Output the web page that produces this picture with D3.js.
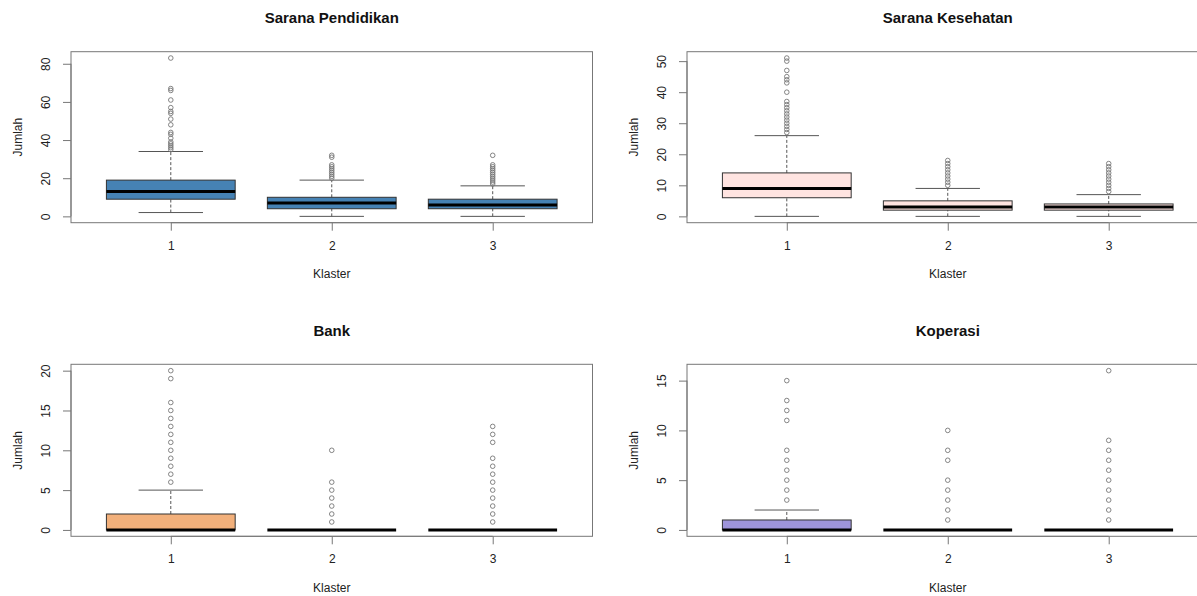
<!DOCTYPE html>
<html>
<head>
<meta charset="utf-8">
<script src="https://cdn.jsdelivr.net/npm/d3@7"></script>
<style>
  body { margin: 0; background: #fff; }
  svg { display: block; font-family: "Liberation Sans", Arial, sans-serif; }
</style>
</head>
<body>
<div id="chart"></div>
<script>
// cluster labels on the x axis
const klaster = [1, 2, 3];
const panelTitles = ["Sarana Pendidikan", "Sarana Kesehatan", "Bank", "Koperasi"];
const boxColors = ["#4682B4", "#FFE4E1", "#F2B07B", "#9E94DA"];

// [lower whisker, Q1, median, Q3, upper whisker] per cluster
const pendidikanStats = [[2, 9, 13, 19, 34], [0, 4, 7, 10, 19], [0, 4, 6, 9, 16]];
const pendidikanOutliers = [
    [35, 36, 37, 38, 39, 41, 43, 44, 48, 51, 54, 55, 57, 61, 66, 67, 83],
    [20, 21, 22, 23, 24, 25, 26, 27, 31, 32],
    [17, 18, 19, 20, 21, 22, 23, 24, 25, 26, 27, 32]
];

const kesehatanStats = [[0, 6, 9, 14, 26], [0, 2, 3, 5, 9], [0, 2, 3, 4, 7]];
const kesehatanOutliers = [
    [27, 28, 29, 30, 31, 32, 33, 34, 35, 36, 37, 40, 43, 44, 45, 47, 50, 51],
    [10, 11, 12, 13, 14, 15, 16, 17, 18],
    [8, 9, 10, 11, 12, 13, 14, 15, 16, 17]
];

const bankStats = [[0, 0, 0, 2, 5], [0, 0, 0, 0, 0], [0, 0, 0, 0, 0]];
const bankOutliers = [
    [6, 7, 8, 9, 10, 11, 12, 13, 14, 15, 16, 19, 20],
    [1, 2, 3, 4, 5, 6, 10],
    [1, 2, 3, 4, 5, 6, 7, 8, 9, 11, 12, 13]
];

const koperasiStats = [[0, 0, 0, 1, 2], [0, 0, 0, 0, 0], [0, 0, 0, 0, 0]];
const koperasiOutliers = [
    [3, 4, 5, 6, 7, 8, 11, 12, 13, 15],
    [1, 2, 3, 4, 5, 7, 8, 10],
    [1, 2, 3, 4, 5, 6, 7, 8, 9, 16]
];

const W = 1197, H = 596;

const svg = d3.select("#chart")
    .append("svg")
    .attr("width", W)
    .attr("height", H);

// plot regions: left, top, right, bottom
const panels = [
    {title: panelTitles[0], stats: pendidikanStats, outliers: pendidikanOutliers, color: boxColors[0], box: [71, 51.7, 592.5, 222.7]},
    {title: panelTitles[1], stats: kesehatanStats, outliers: kesehatanOutliers, color: boxColors[1], box: [687, 51.7, 1208.5, 222.7]},
    {title: panelTitles[2], stats: bankStats, outliers: bankOutliers, color: boxColors[2], box: [71, 364.3, 592.5, 536.3]},
    {title: panelTitles[3], stats: koperasiStats, outliers: koperasiOutliers, color: boxColors[3], box: [687, 364.3, 1208.5, 536.3]}
];

function drawPanel(p) {
    const [x0, y0, x1, y1] = p.box;

    // R style: 4% padding around the data range
    const allVals = p.stats.flat().concat(p.outliers.flat());
    const lo = d3.min(allVals), hi = d3.max(allVals);
    const pad = (hi - lo) * 0.04;

    const x = d3.scaleLinear()
        .domain([1 - 0.5 - 0.12, klaster.length + 0.5 + 0.12])
        .range([x0, x1]);
    const y = d3.scaleLinear()
        .domain([lo - pad, hi + pad])
        .range([y1, y0]);

    const g = svg.append("g");

    const boxHalf = x(1.4) - x(1);
    const capHalf = x(1.2) - x(1);

    const groups = g.selectAll("g.grp")
        .data(klaster.map((k, i) => ({k: k, s: p.stats[i], out: p.outliers[i]})))
        .enter()
        .append("g");

    // dashed whiskers
    groups.append("line")
        .attr("x1", d => x(d.k)).attr("x2", d => x(d.k))
        .attr("y1", d => y(d.s[3])).attr("y2", d => y(d.s[4]))
        .attr("stroke", "#555").attr("stroke-dasharray", "3,2");
    groups.append("line")
        .attr("x1", d => x(d.k)).attr("x2", d => x(d.k))
        .attr("y1", d => y(d.s[0])).attr("y2", d => y(d.s[1]))
        .attr("stroke", "#555").attr("stroke-dasharray", "3,2");

    // staples
    groups.filter(d => d.s[4] > d.s[3]).append("line")
        .attr("x1", d => x(d.k) - capHalf).attr("x2", d => x(d.k) + capHalf)
        .attr("y1", d => y(d.s[4])).attr("y2", d => y(d.s[4]))
        .attr("stroke", "#555");
    groups.filter(d => d.s[0] < d.s[1]).append("line")
        .attr("x1", d => x(d.k) - capHalf).attr("x2", d => x(d.k) + capHalf)
        .attr("y1", d => y(d.s[0])).attr("y2", d => y(d.s[0]))
        .attr("stroke", "#555");

    // box
    groups.append("rect")
        .attr("x", d => x(d.k) - boxHalf)
        .attr("width", 2 * boxHalf)
        .attr("y", d => y(d.s[3]))
        .attr("height", d => y(d.s[1]) - y(d.s[3]))
        .attr("fill", p.color)
        .attr("stroke", "#333")
        .attr("stroke-width", 1);

    // median
    groups.append("line")
        .attr("x1", d => x(d.k) - boxHalf).attr("x2", d => x(d.k) + boxHalf)
        .attr("y1", d => y(d.s[2])).attr("y2", d => y(d.s[2]))
        .attr("stroke", "#000").attr("stroke-width", 3);

    // outliers
    groups.selectAll("circle")
        .data(d => d.out.map(v => ({k: d.k, v: v})))
        .enter()
        .append("circle")
        .attr("cx", d => x(d.k))
        .attr("cy", d => y(d.v))
        .attr("r", 2.3)
        .attr("fill", "none")
        .attr("stroke", "#777")
        .attr("stroke-width", 0.9);

    // plot frame
    g.append("rect")
        .attr("x", x0).attr("y", y0)
        .attr("width", x1 - x0).attr("height", y1 - y0)
        .attr("fill", "none")
        .attr("stroke", "#777")
        .attr("stroke-width", 1);

    // y axis
    const yTicks = y.ticks(5).filter(t => t >= lo);
    const yAxis = g.append("g")
        .attr("transform", `translate(${x0},0)`)
        .call(d3.axisLeft(y).tickValues(yTicks).tickSize(8).tickSizeOuter(0));
    yAxis.select(".domain")
        .attr("d", `M0,${y(yTicks[0])}V${y(yTicks[yTicks.length - 1])}`)
        .attr("stroke", "#777");
    yAxis.selectAll(".tick line").attr("stroke", "#777");
    yAxis.selectAll(".tick text")
        .attr("transform", "rotate(-90)")
        .attr("x", 0).attr("y", -21).attr("dy", 0)
        .attr("text-anchor", "middle")
        .attr("fill", "#222")
        .style("font-size", "12px")
        .style("font-family", "Liberation Sans, Arial, sans-serif");

    // x axis
    const xAxis = g.append("g")
        .attr("transform", `translate(0,${y1})`)
        .call(d3.axisBottom(x).tickValues(klaster).tickFormat(d3.format("d")).tickSize(8).tickSizeOuter(0));
    xAxis.select(".domain")
        .attr("d", `M${x(klaster[0])},0H${x(klaster[klaster.length - 1])}`)
        .attr("stroke", "#777");
    xAxis.selectAll(".tick line").attr("stroke", "#777");
    xAxis.selectAll(".tick text")
        .attr("y", 23).attr("dy", "0.35em")
        .attr("fill", "#222")
        .style("font-size", "12px")
        .style("font-family", "Liberation Sans, Arial, sans-serif");

    const cx = (x0 + x1) / 2;

    // title
    g.append("text")
        .attr("x", cx).attr("y", y0 - 34)
        .attr("dy", "0.35em")
        .attr("text-anchor", "middle")
        .style("font-size", "15px")
        .style("font-weight", "bold")
        .attr("fill", "#111")
        .text(p.title);

    // axis labels
    g.append("text")
        .attr("x", cx).attr("y", y1 + 51)
        .attr("dy", "0.35em")
        .attr("text-anchor", "middle")
        .style("font-size", "12px")
        .attr("fill", "#222")
        .text("Klaster");

    g.append("text")
        .attr("transform", `translate(${x0 - 53},${(y0 + y1) / 2}) rotate(-90)`)
        .attr("dy", "0.35em")
        .attr("text-anchor", "middle")
        .style("font-size", "12px")
        .attr("fill", "#222")
        .text("Jumlah");
}

panels.forEach(drawPanel);
</script>
</body>
</html>
